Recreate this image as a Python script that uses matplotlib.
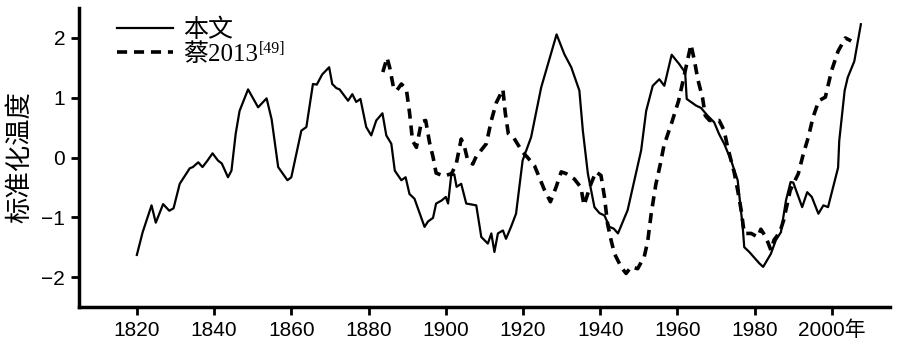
import numpy as np
import matplotlib
matplotlib.use('Agg')
import matplotlib.pyplot as plt

# 本文 (solid line)
year_a = [1820, 1821.5, 1823.8, 1824.9, 1826.8, 1828.4, 1829.5, 1831.1, 1833.7, 1834.5,
          1835.9, 1837.0, 1838.3, 1839.6, 1841.0, 1842.0, 1843.6, 1844.5, 1845.6, 1846.6,
          1848.8, 1851.4, 1853.6, 1854.9, 1856.6, 1859.0, 1860.0, 1862.6, 1863.9, 1865.6,
          1866.6, 1868.0, 1869.8, 1870.6, 1871.7, 1872.5, 1874.7, 1875.8, 1876.8, 1877.9,
          1879.4, 1880.7, 1882.0, 1883.6, 1884.6, 1885.9, 1886.8, 1888.5, 1889.6, 1890.6,
          1891.9, 1894.5, 1895.4, 1896.7, 1897.5, 1898.9, 1900.0, 1900.6, 1901.4, 1902.2,
          1902.8, 1904.0, 1905.3, 1907.9, 1909.2, 1910.9, 1911.8, 1912.6, 1913.5, 1914.8,
          1915.6, 1916.9, 1918.2, 1919.9, 1922.1, 1924.7, 1928.7, 1930.7, 1932.5, 1934.6,
          1935.5, 1936.8, 1938.5, 1939.8, 1941.1, 1942.4, 1943.5, 1944.6, 1947.1, 1950.6,
          1951.9, 1953.6, 1955.3, 1956.6, 1958.5, 1960.5, 1962.0, 1962.4, 1964.8, 1966.1,
          1967.8, 1969.5, 1970.8, 1972.1, 1973.9, 1975.6, 1976.9, 1977.3, 1978.6, 1981.2,
          1982.2, 1984.2, 1985.5, 1986.8, 1988.1, 1989.3, 1990.0, 1992.3, 1993.6, 1994.8,
          1996.5, 1997.8, 1999.0, 2001.6, 2001.9, 2003.3, 2004.1, 2005.8, 2007.5]
temp_a = [-1.63, -1.25, -0.80, -1.09, -0.78, -0.89, -0.85, -0.44, -0.18, -0.16,
          -0.08, -0.16, -0.05, 0.07, -0.05, -0.10, -0.33, -0.22, 0.40, 0.78,
          1.14, 0.84, 0.99, 0.64, -0.16, -0.38, -0.33, 0.45, 0.51, 1.23,
          1.22, 1.39, 1.51, 1.23, 1.16, 1.14, 0.95, 1.06, 0.93, 0.98,
          0.51, 0.37, 0.62, 0.74, 0.37, 0.23, -0.22, -0.38, -0.33, -0.61,
          -0.69, -1.16, -1.07, -1.01, -0.77, -0.72, -0.66, -0.77, -0.30, -0.28,
          -0.49, -0.44, -0.77, -0.80, -1.33, -1.44, -1.27, -1.58, -1.27, -1.22,
          -1.36, -1.16, -0.94, -0.05, 0.34, 1.17, 2.06, 1.73, 1.51, 1.12,
          0.45, -0.27, -0.83, -0.93, -0.97, -1.16, -1.19, -1.27, -0.88, 0.12,
          0.78, 1.20, 1.31, 1.20, 1.72, 1.56, 1.42, 0.98, 0.87, 0.83,
          0.70, 0.59, 0.39, 0.23, -0.05, -0.38, -1.16, -1.50, -1.58, -1.77,
          -1.83, -1.61, -1.38, -1.25, -0.72, -0.41, -0.42, -0.83, -0.58, -0.66,
          -0.94, -0.80, -0.83, -0.17, 0.28, 1.12, 1.34, 1.61, 2.23]

# 蔡2013 (dashed line)
year_b = [1883.7, 1884.8, 1885.5, 1886.5, 1887.3, 1888.5, 1889.8, 1890.6, 1891.4, 1892.4,
          1893.7, 1894.8, 1895.8, 1896.7, 1897.5, 1899.5, 1901.5, 1902.7, 1904.0, 1904.8,
          1905.7, 1907.0, 1907.9, 1910.5, 1911.8, 1913.1, 1914.8, 1915.4, 1916.2, 1917.7,
          1919.9, 1921.2, 1923.0, 1925.6, 1927.1, 1928.6, 1929.9, 1931.2, 1933.3, 1935.0,
          1935.8, 1937.6, 1938.9, 1940.2, 1941.1, 1941.9, 1942.8, 1943.7, 1945.4, 1946.7,
          1948.0, 1949.7, 1951.4, 1952.3, 1953.2, 1954.4, 1955.6, 1956.5, 1958.6, 1960.3,
          1961.5, 1963.5, 1964.4, 1965.3, 1966.5, 1967.2, 1968.3, 1970.8, 1972.1, 1973.0,
          1974.7, 1975.6, 1976.5, 1977.3, 1979.1, 1980.8, 1981.6, 1982.9, 1984.2, 1985.0,
          1986.5, 1987.5, 1989.2, 1991.3, 1992.6, 1993.9, 1995.1, 1996.6, 1998.3, 1999.9,
          2001.6, 2003.5, 2005.0]
temp_b = [1.43, 1.67, 1.50, 1.16, 1.12, 1.23, 1.14, 0.76, 0.28, 0.17,
          0.60, 0.62, 0.25, 0.01, -0.26, -0.31, -0.27, -0.11, 0.31, 0.19,
          -0.05, -0.11, 0.02, 0.23, 0.62, 0.92, 1.14, 0.75, 0.40, 0.32,
          0.09, 0.00, -0.14, -0.55, -0.74, -0.49, -0.24, -0.27, -0.36, -0.50,
          -0.80, -0.44, -0.24, -0.30, -0.66, -1.11, -1.38, -1.61, -1.83, -1.94,
          -1.83, -1.86, -1.66, -1.40, -0.94, -0.45, -0.10, 0.20, 0.60, 0.95,
          1.30, 1.89, 1.62, 1.30, 1.00, 0.70, 0.62, 0.62, 0.45, 0.17,
          -0.25, -0.55, -0.88, -1.27, -1.27, -1.33, -1.20, -1.33, -1.55, -1.38,
          -1.25, -1.05, -0.55, -0.27, 0.06, 0.34, 0.67, 0.95, 1.01, 1.45,
          1.78, 2.00, 1.95]

x_ticks = [1820, 1840, 1860, 1880, 1900, 1920, 1940, 1960, 1980, 2000]
x_labels = ['1820', '1840', '1860', '1880', '1900', '1920', '1940', '1960', '1980', '2000年']
y_ticks = [-2, -1, 0, 1, 2]

plt.rcParams['font.family'] = ['Liberation Sans', 'Noto Sans CJK SC']

fig = plt.figure(figsize=(8.97, 3.52), dpi=100)
ax = fig.add_axes([0.088, 0.128, 0.904, 0.849])

ax.plot(year_a, temp_a, c='#000000', lw=1.6, label='本文')
ax.plot(year_b, temp_b, c='#000000', lw=2.6, dashes=(2.8, 1.9), label='蔡2013')

ax.set_xlim(1805, 2015)
ax.set_ylim(-2.5, 2.5)
ax.set_xticks(x_ticks)
ax.set_xticklabels(x_labels)
ax.set_yticks(y_ticks)

for s in ['top', 'right']:
    ax.spines[s].set_visible(False)
for s in ['left', 'bottom']:
    ax.spines[s].set_linewidth(2.5)
ax.tick_params(direction='out', length=6, width=2, labelsize=15, pad=4)

ax.set_ylabel('标准化温度', family=['Noto Sans CJK SC'], fontsize=19, labelpad=6)

leg = ax.legend(loc='upper left', bbox_to_anchor=(0.019, 1.04), frameon=False,
                handlelength=2.25, handletextpad=0.4, labelspacing=0.05,
                prop={'family': ['Liberation Serif', 'Noto Sans CJK SC'], 'size': 18})

# superscript reference mark after the second legend entry
fig.canvas.draw()
bb = leg.get_texts()[1].get_window_extent()
inv = fig.transFigure.inverted()
x1, y1 = inv.transform((bb.x1, bb.y1))
fig.text(x1 + 0.001, y1 + 0.006, '[49]', family='Liberation Serif', fontsize=11.5, va='top', ha='left')

plt.savefig('out.png', dpi=100)
